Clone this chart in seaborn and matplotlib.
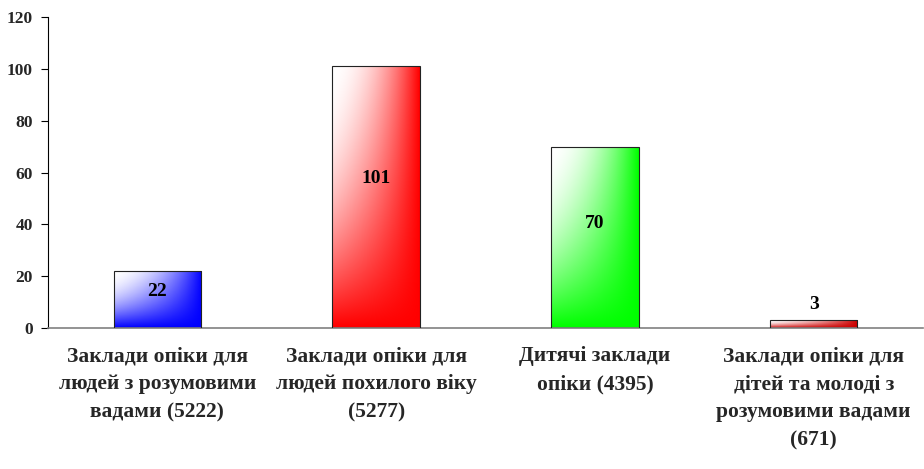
import matplotlib
matplotlib.use('Agg')
import matplotlib.pyplot as plt
import matplotlib.colors as mcolors
import seaborn as sns
import pandas as pd
import numpy as np

categories = ['Заклади опіки для\nлюдей з розумовими\nвадами (5222)',
              'Заклади опіки для\nлюдей похилого віку\n(5277)',
              'Дитячі заклади\nопіки (4395)',
              'Заклади опіки для\nдітей та молоді з\nрозумовими вадами\n(671)']
values = [22, 101, 70, 3]
bar_colors = ['#0000FF', '#FF0000', '#00FF00', '#CC0000']
y_ticks = [0, 20, 40, 60, 80, 100, 120]

sns.set_style('white')
plt.rcParams['font.family'] = ['Liberation Serif', 'DejaVu Serif']
plt.rcParams['font.weight'] = 'bold'

df = pd.DataFrame({'cat': categories, 'val': values})

fig = plt.figure(figsize=(9.24, 4.69), dpi=100)
ax = fig.add_axes([48 / 924, 141 / 469, 1 - 48 / 924 - 0.001, 311 / 469])
sns.barplot(data=df, x='cat', y='val', hue='cat', palette=bar_colors,
            width=0.4, legend=False, ax=ax, edgecolor='#222222', linewidth=0.8)

# gradient fill: white in top-left corner, full colour to right and bottom
n = 100
u, v = np.meshgrid(np.linspace(0, 1, n), np.linspace(0, 1, n))
t = (1 - (1 - u) * (1 - v)) ** 2
for patch, col in zip(ax.patches, bar_colors):
    x0, y0 = patch.get_x(), patch.get_y()
    w, h = patch.get_width(), patch.get_height()
    rgb = np.array(mcolors.to_rgb(col))
    img = (1 - t)[..., None] * np.ones(3) + t[..., None] * rgb
    im = ax.imshow(img, extent=[x0, x0 + w, y0, y0 + h], origin='upper',
                   aspect='auto', zorder=2, interpolation='bilinear')
    im.set_clip_path(patch)
    patch.set_facecolor('none')
    patch.set_zorder(3)

# value labels
for i, val in enumerate(values):
    ypos = val * 0.55 + 2 if val > 10 else val + 6
    ax.text(i, ypos, str(val), ha='center', va='center',
            fontsize=14, fontweight='bold', color='black', zorder=5)

ax.set_xlim(-0.5, 3.5)
ax.set_ylim(0, 120)
ax.set_yticks(y_ticks)
ax.set_yticklabels([str(y) for y in y_ticks], fontsize=12.5, fontweight='bold')
ax.set_xticks(range(len(categories)))
ax.set_xticklabels(categories, fontsize=15.5, fontweight='bold', linespacing=1.54)
ax.set_xticks([0.5, 1.5, 2.5], minor=True)
ax.tick_params(axis='x', which='major', length=0, pad=13)
ax.tick_params(axis='x', which='minor', length=6, color='#808080', direction='out')
ax.tick_params(axis='y', length=5, direction='out', color='black', left=True, pad=6)
ax.set_xlabel('')
ax.set_ylabel('')

for side in ['top', 'right']:
    ax.spines[side].set_visible(False)
ax.spines['left'].set_color('black')
ax.spines['bottom'].set_color('#808080')
ax.spines['bottom'].set_linewidth(1.2)

fig.savefig('out.png', dpi=100)
